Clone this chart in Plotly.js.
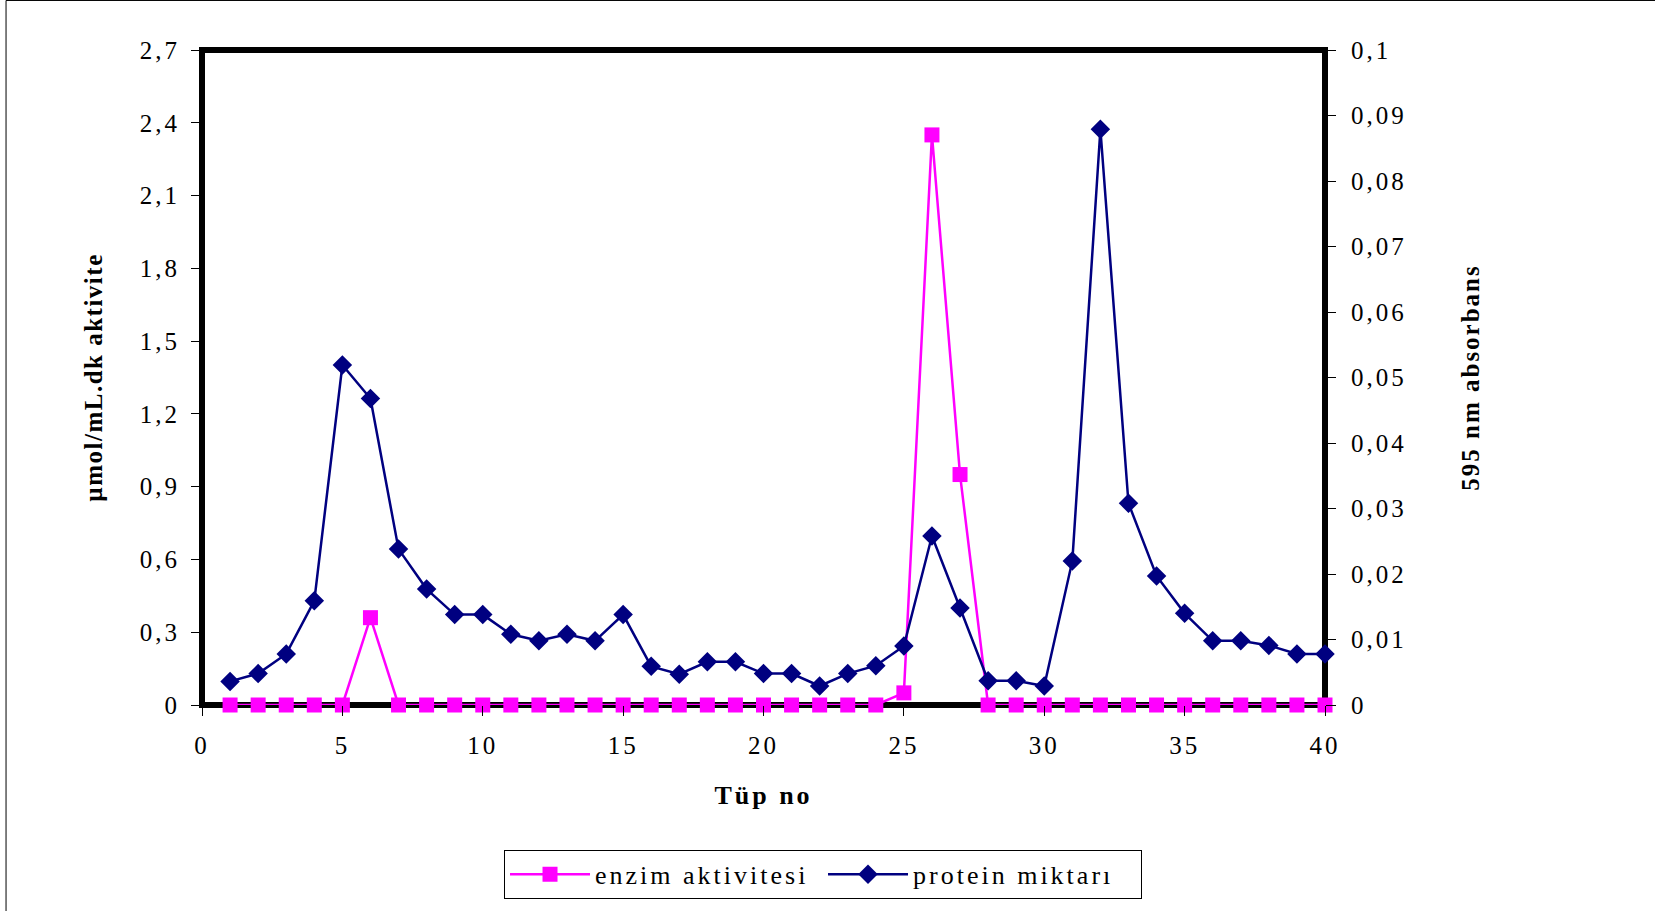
<!DOCTYPE html>
<html>
<head>
<meta charset="utf-8">
<script src="https://cdn.plot.ly/plotly-3.0.1.min.js"></script>
<style>
  html, body { margin: 0; padding: 0; background: #ffffff; }
  #chart { width: 1655px; height: 911px; }
  .legendtext { letter-spacing: 3px; }
  .xtick text, .ytick text, .y2tick text { letter-spacing: 3px; }
  .g-xtitle text { letter-spacing: 3px; }
  .g-ytitle text { letter-spacing: 1.5px; }
  .g-y2title text { letter-spacing: 2px; }
</style>
</head>
<body>
<div id="chart"></div>
<script>
// Tube numbers of the collected fractions
const tubeNo = [1, 2, 3, 4, 5, 6, 7, 8, 9, 10,
                11, 12, 13, 14, 15, 16, 17, 18, 19, 20,
                21, 22, 23, 24, 25, 26, 27, 28, 29, 30,
                31, 32, 33, 34, 35, 36, 37, 38, 39, 40];

// Enzyme activity (µmol/mL.dk), left axis
const enzymeActivity = [0, 0, 0, 0, 0, 0.36, 0, 0, 0, 0,
                        0, 0, 0, 0, 0, 0, 0, 0, 0, 0,
                        0, 0, 0, 0, 0.05, 2.35, 0.95, 0, 0, 0,
                        0, 0, 0, 0, 0, 0, 0, 0, 0, 0];

// Protein amount (absorbance at 595 nm), right axis
const proteinAbsorbance = [0.0036, 0.0048, 0.0078, 0.0159, 0.0519, 0.0468, 0.0238, 0.0177, 0.0138, 0.0138,
                           0.0108, 0.0098, 0.0108, 0.0098, 0.0138, 0.0059, 0.0047, 0.0066, 0.0066, 0.0048,
                           0.0048, 0.0029, 0.0048, 0.0060, 0.0090, 0.0258, 0.0148, 0.0037, 0.0037, 0.0029,
                           0.0220, 0.0879, 0.0308, 0.0197, 0.0140, 0.0098, 0.0098, 0.0091, 0.0078, 0.0078];

// Axis ticks
const activityTicks = [0, 0.3, 0.6, 0.9, 1.2, 1.5, 1.8, 2.1, 2.4, 2.7];
const activityTickLabels = ['0', '0,3', '0,6', '0,9', '1,2', '1,5', '1,8', '2,1', '2,4', '2,7'];
const absorbanceTicks = [0, 0.01, 0.02, 0.03, 0.04, 0.05, 0.06, 0.07, 0.08, 0.09, 0.1];
const absorbanceTickLabels = ['0', '0,01', '0,02', '0,03', '0,04', '0,05', '0,06', '0,07', '0,08', '0,09', '0,1'];
const tubeTicks = [0, 5, 10, 15, 20, 25, 30, 35, 40];

const serif = "'Liberation Serif', 'Times New Roman', serif";

const traces = [
  {
    name: 'enzim aktivitesi',
    x: tubeNo,
    y: enzymeActivity,
    yaxis: 'y',
    type: 'scatter',
    mode: 'lines+markers',
    cliponaxis: false,
    line: { color: '#FF00FF', width: 2.5 },
    marker: { symbol: 'square', size: 15, color: '#FF00FF', line: { width: 0 } }
  },
  {
    name: 'protein miktarı',
    x: tubeNo,
    y: proteinAbsorbance,
    yaxis: 'y2',
    type: 'scatter',
    mode: 'lines+markers',
    cliponaxis: false,
    line: { color: '#000080', width: 2.5 },
    marker: { symbol: 'diamond', size: 15, color: '#000080', line: { width: 0 } }
  }
];

const tickFont = { family: serif, size: 25, color: '#000000' };
const titleFont = { family: serif, size: 25, color: '#000000' };

const layout = {
  width: 1655,
  height: 911,
  margin: { l: 202, r: 330, t: 50, b: 206 },
  paper_bgcolor: '#ffffff',
  plot_bgcolor: '#ffffff',
  font: { family: serif, color: '#000000' },
  showlegend: true,
  xaxis: {
    range: [0, 40],
    tickvals: tubeTicks,
    ticks: 'outside',
    ticklen: 10,
    tickwidth: 1,
    tickcolor: '#000000',
    ticklabelstandoff: 8,
    showline: false,
    showgrid: false,
    zeroline: false,
    tickfont: tickFont,
    title: { text: '<b>Tüp no</b>', font: { family: serif, size: 26, color: '#000000' }, standoff: 27 }
  },
  yaxis: {
    range: [0, 2.7],
    tickvals: activityTicks,
    ticktext: activityTickLabels,
    ticks: 'outside',
    ticklen: 10,
    tickwidth: 1,
    tickcolor: '#000000',
    ticklabelstandoff: 6,
    showline: false,
    showgrid: false,
    zeroline: false,
    tickfont: tickFont,
    title: { text: '<b>µmol/mL.dk aktivite</b>', font: titleFont, standoff: 30 }
  },
  yaxis2: {
    overlaying: 'y',
    side: 'right',
    range: [0, 0.1],
    tickvals: absorbanceTicks,
    ticktext: absorbanceTickLabels,
    ticks: 'outside',
    ticklen: 10,
    tickwidth: 1,
    tickcolor: '#000000',
    ticklabelstandoff: 10,
    showline: false,
    showgrid: false,
    zeroline: false,
    tickfont: tickFont,
    title: { text: '<b>595 nm absorbans</b>', font: titleFont, standoff: 55 }
  },
  legend: {
    orientation: 'h',
    x: 0.553,
    xanchor: 'center',
    y: -0.221,
    yanchor: 'top',
    bgcolor: '#ffffff',
    bordercolor: '#000000',
    borderwidth: 1,
    itemwidth: 80,
    entrywidth: 223,
    entrywidthmode: 'pixels',
    font: { family: serif, size: 26, color: '#000000' },
    traceorder: 'normal'
  },
  shapes: [
    // heavy frame around the plotting area
    {
      type: 'rect', xref: 'paper', yref: 'paper',
      x0: 0, x1: 1, y0: 0, y1: 1,
      line: { color: '#000000', width: 6 },
      layer: 'below'
    },
    // thin outer border of the chart
    {
      type: 'rect', xref: 'paper', yref: 'paper',
      x0: -0.1745, x1: 1.34, y0: -0.46, y1: 1.0756,
      line: { color: '#000000', width: 1 },
      layer: 'below'
    }
  ]
};

Plotly.newPlot('chart', traces, layout, { displayModeBar: false, staticPlot: true });
</script>
</body>
</html>
